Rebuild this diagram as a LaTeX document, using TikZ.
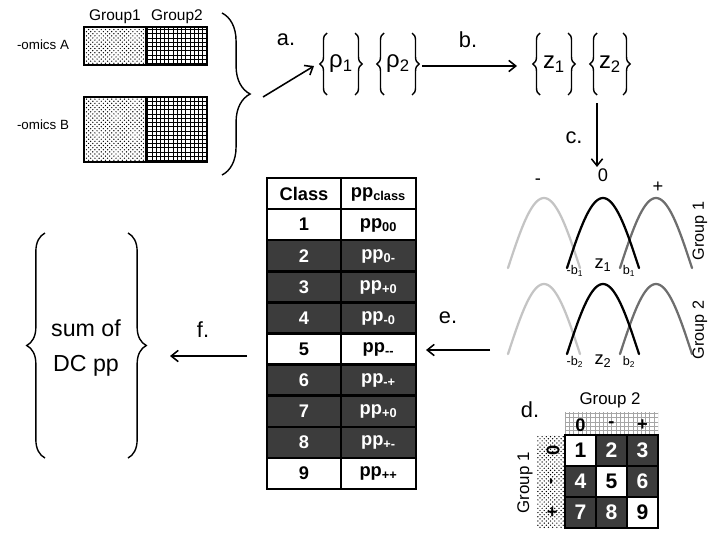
\documentclass[tikz,border=0pt]{standalone}
\usepackage{fontspec}
\setmainfont{Liberation Sans}
\usetikzlibrary{patterns, decorations.pathreplacing, arrows.meta, calc}
\definecolor{darkcell}{HTML}{3C3C3C}
\definecolor{lightcurve}{HTML}{C4C4C4}
\definecolor{midcurve}{HTML}{6E6E6E}
\newcommand{\fs}[1]{\fontsize{#1}{#1}\selectfont}

\begin{document}
\begin{tikzpicture}[x=0.025cm, y=-0.025cm,
    arr/.style={line width=1.1pt, -{Straight Barb[length=5pt, width=8pt]}},
    curly/.style={decorate, decoration={brace, amplitude=#1}, line width=1pt},
    bell/.style={line width=1.6pt, line cap=round},
    steplabel/.style={font=\fs{15.5}},
    cellbox/.style={draw=black, line width=1.8pt},
    celltext/.style={font=\fs{#1}\bfseries}]
    \useasboundingbox (0,0) rectangle (720,540);

    \node[font=\fs{11}] (g1) at (115,17) {Group1};
    \node[font=\fs{11}] (g2) at (177,17) {Group2};
    \node[font=\fs{9.5}] (omA) at (43,45) {-omics A};
    \node[font=\fs{9.5}] (omB) at (43,125) {-omics B};
    \foreach \ya/\yb in {27/65, 97/162} {
        \fill[pattern=crosshatch dots] (84,\ya) rectangle (146,\yb);
        \fill[pattern=grid] (146,\ya) rectangle (207,\yb);
        \draw[line width=0.8pt] (84,\ya) rectangle (207,\yb) (146,\ya) -- (146,\yb);
    }
    \draw[curly=20pt] (222,13) -- (222,175);

    \node[font=\fs{17}] (r1) at (341,64) {ρ\textsubscript{1}};
    \node[font=\fs{17}] (r2) at (398,64) {ρ\textsubscript{2}};
    \node[font=\fs{17}] (z1) at (554,64) {z\textsubscript{1}};
    \node[font=\fs{17}] (z2) at (610,64) {z\textsubscript{2}};
    \foreach \n/\w in {r1/14, r2/14, z1/14, z2/13} {
        \draw[curly=5pt] ($(\n)+(-\w,31)$) -- ($(\n)+(-\w,-31)$);
        \draw[curly=5pt] ($(\n)+(\w,-31)$) -- ($(\n)+(\w,31)$);
    }

    \node[steplabel] (la) at (286,40) {a.};
    \coordinate (atail) at (263,97);
    \coordinate (ahead) at (314,66);
    \draw[arr] (atail) -- (ahead);
    \node[steplabel] (lb) at (468,40) {b.};
    \coordinate (btail) at (422,66);
    \coordinate (bhead) at (517,66);
    \draw[arr] (btail) -- (bhead);
    \node[steplabel] (lc) at (574,138) {c.};
    \coordinate (ctail) at (597,103);
    \coordinate (chead) at (597,167);
    \draw[arr] (ctail) -- (chead);

    \node[font=\fs{13}] (minus) at (538,182) {-};
    \node[font=\fs{13}] (zero) at (603,175) {0};
    \node[font=\fs{13}] (plus) at (658,187) {+};
    \foreach \t/\g/\zy/\by in {198/1/265/271, 284/2/361/362} {
        \foreach \c/\col in {544/lightcurve, 656/midcurve, 603/black}
            \draw[bell, \col] plot[domain=-36:36, samples=41, smooth] ({\c+\x}, {\t+70*(1-cos(2.5*\x))});
        \node[font=\fs{9}] (nb\g) at (575,\by) {-b\textsubscript{\g}};
        \node[font=\fs{13}] (zc\g) at (603,\zy) {z\textsubscript{\g}};
        \node[font=\fs{9}] (pb\g) at (629,\by) {b\textsubscript{\g}};
    }
    \node[font=\fs{11.5}, rotate=90] (grp1) at (700,231) {Group 1};
    \node[font=\fs{11.5}, rotate=90] (grp2) at (700,330) {Group 2};

    \node[steplabel] (le) at (448,318) {e.};
    \coordinate (etail) at (490,350);
    \coordinate (ehead) at (426,350);
    \draw[arr] (etail) -- (ehead);

    \foreach \i/\cname/\sub/\fc/\tc [evaluate=\i as \ya using 178+31.1*\i] in {0/Class/class/white/black, 1/1/00/white/black, 2/2/0-/darkcell/white, 3/3/+0/darkcell/white, 4/4/-0/darkcell/white, 5/5/-{}-/white/black, 6/6/-+/darkcell/white, 7/7/+0/darkcell/white, 8/8/+-/darkcell/white, 9/9/++/white/black} {
        \draw[cellbox, fill=\fc] (267,\ya) rectangle (341,\ya+31.1);
        \draw[cellbox, fill=\fc] (341,\ya) rectangle (416,\ya+31.1);
        \node[text=\tc, celltext=13] (cls\i) at (304,\ya+15.5) {\cname};
        \node[text=\tc, celltext=13] (pp\i) at (378.5,\ya+16) {pp\textsubscript{\sub}};
    }

    \node[steplabel] (lf) at (203,330) {f.};
    \coordinate (ftail) at (247,356);
    \coordinate (fhead) at (170,356);
    \draw[arr] (ftail) -- (fhead);
    \node[font=\fontsize{16.5}{25}\selectfont, align=center] (sum) at (86,348) {sum of\\DC pp};
    \draw[curly=13pt] (45,458) -- (45,233);
    \draw[curly=13pt] (128,233) -- (128,458);

    \node[steplabel] (ld) at (530,410) {d.};
    \node[font=\fs{12}] (mg2) at (610,400) {Group 2};
    \node[font=\fs{12}, rotate=90] (mg1) at (525,483) {Group 1};
    \fill[pattern=grid, pattern color=gray!70] (565,412) rectangle (658,435);
    \fill[pattern=crosshatch dots] (537,435) rectangle (565,528);
    \foreach \c/\s in {0/0, 1/-, 2/+} {
        \node[celltext=13] (mh\c) at (580.5+31*\c,425) {\s};
        \node[celltext=13, rotate=90] (mv\c) at (553,450.5+31*\c) {\s};
    }
    \foreach \r in {0,1,2} \foreach \c in {0,1,2} {
        \pgfmathtruncatemacro\k{3*\r+\c+1}
        \ifnum\r=\c \def\fc{white}\def\tc{black}\else \def\fc{darkcell}\def\tc{white}\fi
        \draw[cellbox, fill=\fc] (565+31*\c,435+31*\r) rectangle ++(31,31);
        \node[text=\tc, celltext=15] (m\k) at (580.5+31*\c,450.5+31*\r) {\k};
    }
\end{tikzpicture}
\end{document}
